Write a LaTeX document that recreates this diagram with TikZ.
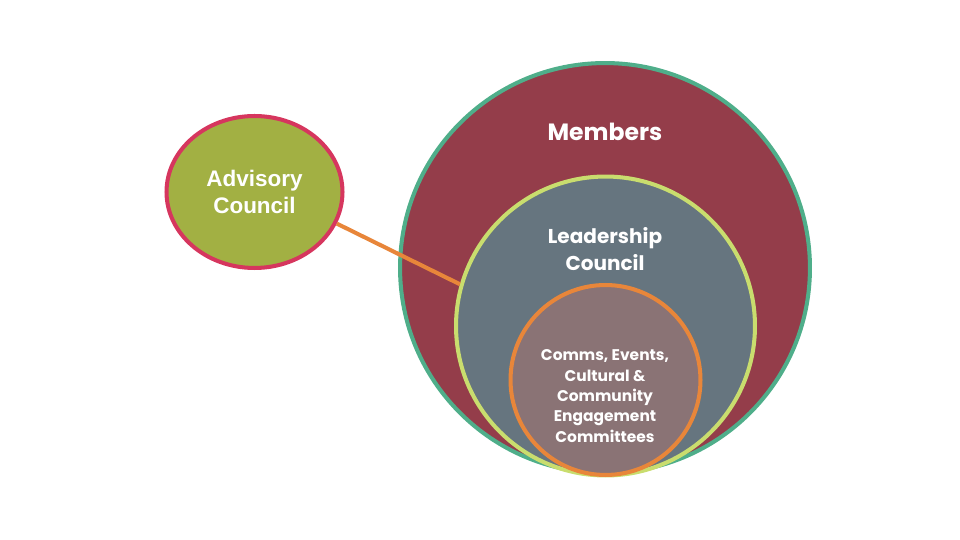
\documentclass[tikz,border=0pt]{standalone}
\usepackage{fontspec}
\setmainfont{Poppins}
\newfontfamily\arialfont{Liberation Sans}
\usetikzlibrary{positioning,shapes.geometric}
\definecolor{memberred}{HTML}{943D4A}
\definecolor{membergreen}{HTML}{4FAE8A}
\definecolor{leadgrey}{HTML}{66757F}
\definecolor{leadlime}{HTML}{C9DD6E}
\definecolor{commmauve}{HTML}{8A7375}
\definecolor{commorange}{HTML}{E8863A}
\definecolor{advolive}{HTML}{A2B043}
\definecolor{advpink}{HTML}{D6365E}
\tikzstyle{ring} = [circle,
                    inner sep=0pt,
                    line width=2.3pt]
\tikzstyle{caption} = [text=white,
                       font=\bfseries,
                       align=center]
\tikzstyle{layers} = [x=0.02cm,
                      y=-0.02cm,
                      line cap=round]

\begin{document}
\begin{tikzpicture}[layers]
    \useasboundingbox (0,0) rectangle (960,540);
    \node (members) at (605,268) [ring, minimum size=8.2cm, draw=membergreen, fill=memberred] {};
    \node (lead) at (605.5,326) [ring, minimum size=5.98cm, draw=leadlime, fill=leadgrey] {};
    \node (comm) at (605.5,380) [ring, minimum size=3.8cm, draw=commorange, fill=commmauve] {};
    \node (adv) at (254.5,192) [ellipse, inner sep=0pt, line width=2.3pt, minimum width=3.52cm,
                                minimum height=3.04cm, draw=advpink, fill=advolive] {};
    \node (memberstext) at (605,132) [caption, font=\fontsize{13.4}{16}\selectfont\bfseries] {Members};
    \node (leadtext) at (605,249) [caption, font=\fontsize{11.4}{15.5}\selectfont\bfseries] {Leadership\\Council};
    \node (commtext) at (605,396) [caption, font=\fontsize{8.8}{11.6}\selectfont\bfseries]
        {Comms, Events,\\Cultural \&\\Community\\Engagement\\Committees};
    \node (advtext) at (254.5,192) [caption, font=\arialfont\fontsize{12.8}{15.5}\selectfont\bfseries] {Advisory\\Council};
    \draw [commorange, line width=2.3pt, line cap=butt] (adv.-21) -- (lead.164);
\end{tikzpicture}
\end{document}
